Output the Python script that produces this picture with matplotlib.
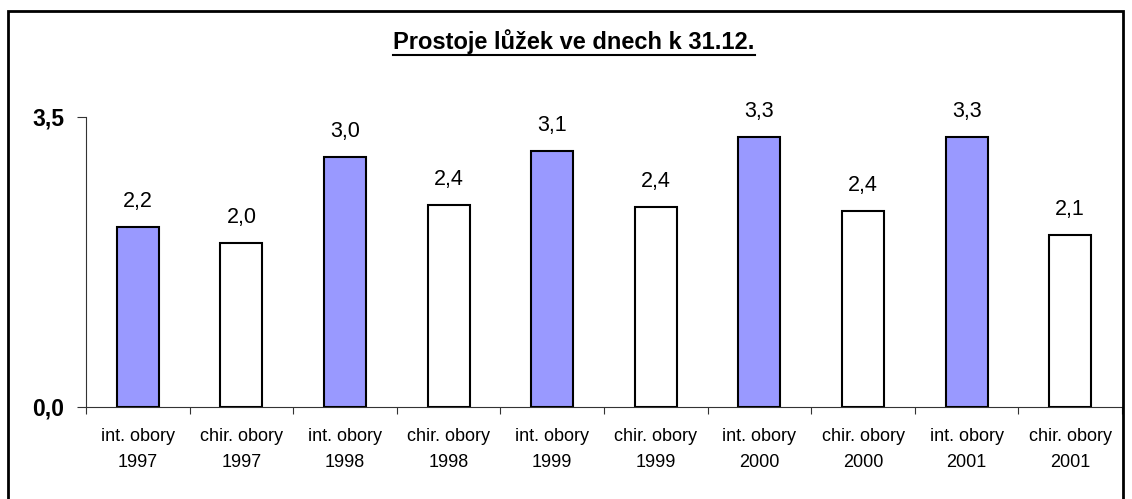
import numpy as np
import matplotlib
matplotlib.use('Agg')
import matplotlib.pyplot as plt
from matplotlib.patches import Rectangle
from matplotlib.lines import Line2D

plt.rcParams['font.family'] = ['Liberation Sans', 'DejaVu Sans']

# data
kategorie = ['int. obory\n1997', 'chir. obory\n1997', 'int. obory\n1998', 'chir. obory\n1998',
             'int. obory\n1999', 'chir. obory\n1999', 'int. obory\n2000', 'chir. obory\n2000',
             'int. obory\n2001', 'chir. obory\n2001']
hodnoty = [2.17, 1.98, 3.02, 2.44, 3.09, 2.41, 3.26, 2.37, 3.26, 2.07]
popisky = ['2,2', '2,0', '3,0', '2,4', '3,1', '2,4', '3,3', '2,4', '3,3', '2,1']
barvy = ['#9999FF', '#FFFFFF'] * 5

fig = plt.figure(figsize=(11.32, 4.99), dpi=100)
ax = fig.add_axes([0.076, 0.1844, 0.9152, 0.5812])

x = np.arange(len(hodnoty))
ax.bar(x, hodnoty, width=0.405, color=barvy, edgecolor='black', linewidth=1.5, zorder=3)

# popisky hodnot nad sloupci
for xi, h, t in zip(x, hodnoty, popisky):
    ax.annotate(t, (xi, h), xytext=(0, 10.8), textcoords='offset points',
                ha='center', va='bottom', fontsize=15.5)

ax.set_xlim(-0.5, 9.5)
ax.set_ylim(0, 3.5)
ax.set_yticks([0, 3.5])
ax.set_yticklabels(['0,0', '3,5'], fontsize=16.5, fontweight='bold')
ax.tick_params(axis='y', length=6.5, width=0.8, color='#333333', pad=9)

ax.set_xticks(np.arange(-0.5, 10, 1))
ax.set_xticklabels([])
ax.set_xticks(x, minor=True)
ax.set_xticklabels(kategorie, minor=True, fontsize=13, linespacing=1.7)
ax.tick_params(axis='x', which='major', length=5, width=0.8, color='#333333')
ax.tick_params(axis='x', which='minor', length=0, pad=15)

for s in ['top', 'right']:
    ax.spines[s].set_visible(False)
for s in ['left', 'bottom']:
    ax.spines[s].set_color('#333333')
    ax.spines[s].set_linewidth(0.8)

# nadpis s podtrzenim
title = fig.text(574 / 1132, 1 - 42 / 499, 'Prostoje lůžek ve dnech k 31.12.', ha='center', va='center',
                 fontsize=17, fontweight='bold')
fig.canvas.draw()
bb = title.get_window_extent().transformed(fig.transFigure.inverted())
fig.add_artist(Line2D([bb.x0, bb.x1], [bb.y0 - 0.002, bb.y0 - 0.002], color='black', linewidth=1.5,
                      transform=fig.transFigure))

# ramecek grafu
fig.add_artist(Rectangle((8 / 1132, -0.01), (1123 - 8) / 1132, 1 - 11 / 499 + 0.01, fill=False,
                         edgecolor='black', linewidth=2, transform=fig.transFigure))

plt.savefig('out.png', dpi=100)
